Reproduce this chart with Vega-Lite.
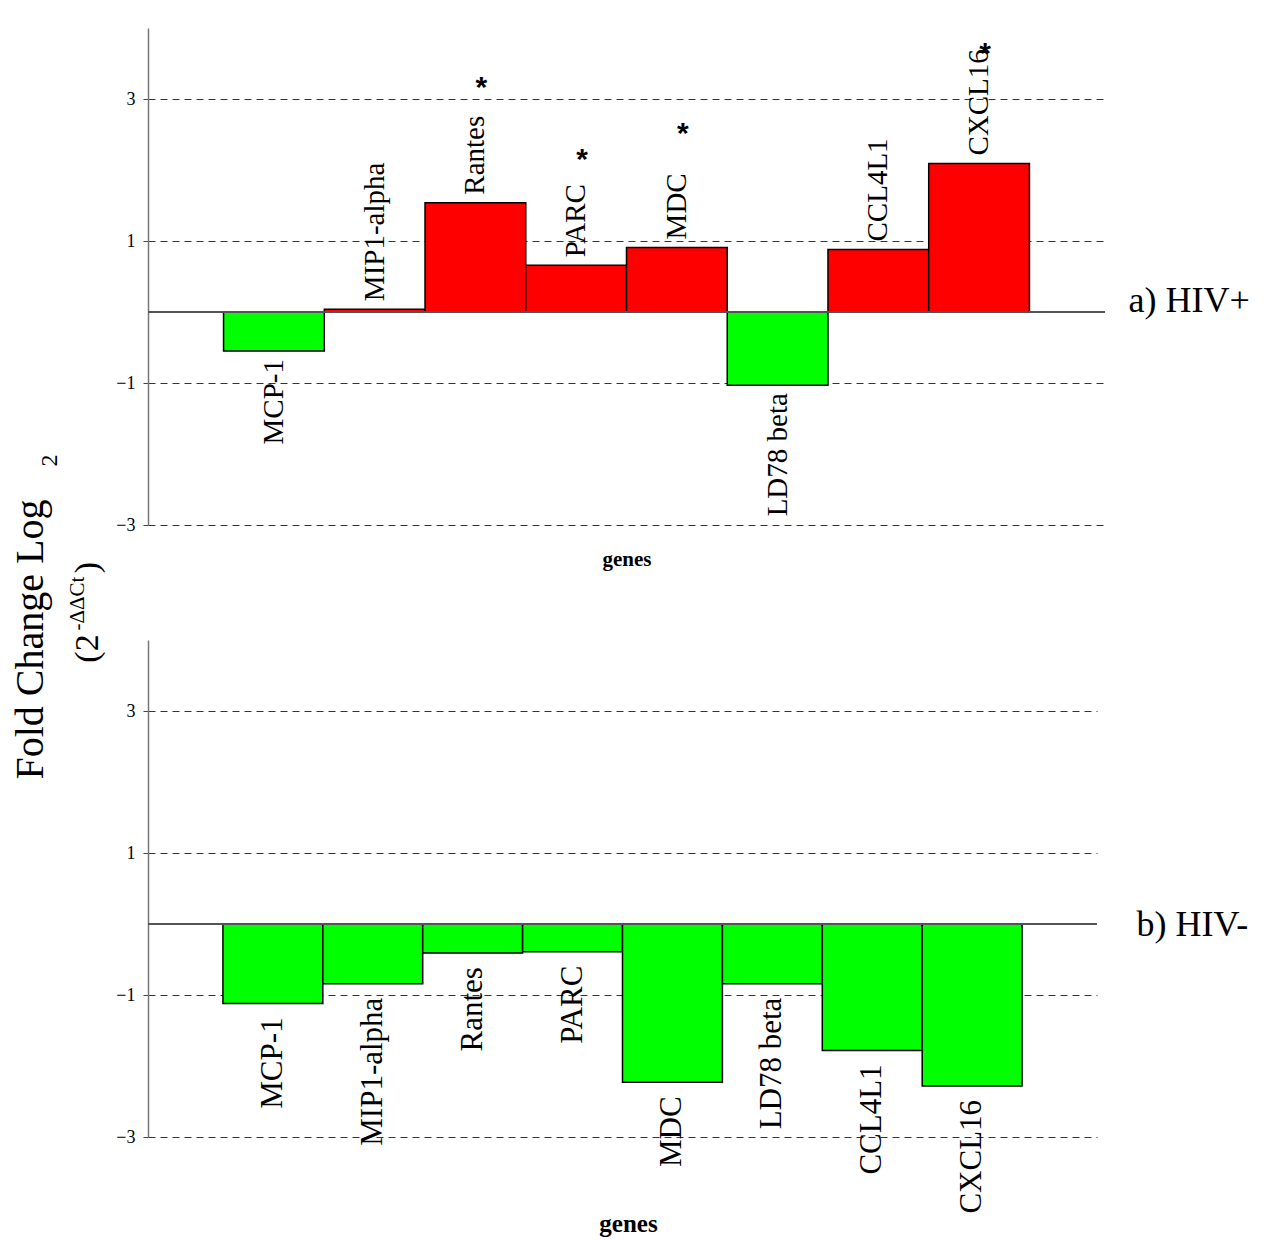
{
  "$schema": "https://vega.github.io/schema/vega-lite/v6.json",
  "padding": {"left": 10, "top": 28, "right": 19, "bottom": 5},
  "background": "white",
  "config": {
    "view": {"stroke": null},
    "font": "Liberation Serif",
    "axis": {"titleFont": "Liberation Serif", "labelFont": "Liberation Serif", "titleColor": "#000", "labelColor": "#000", "titleFontWeight": "normal"}
  },
  "data": {
    "values": [
      {"panel": "a", "gene": "MCP-1", "value": -0.55},
      {"panel": "a", "gene": "MIP1-alpha", "value": 0.04},
      {"panel": "a", "gene": "Rantes", "value": 1.54, "star": 3.27},
      {"panel": "a", "gene": "PARC", "value": 0.66, "star": 2.25},
      {"panel": "a", "gene": "MDC", "value": 0.91, "star": 2.62},
      {"panel": "a", "gene": "LD78 beta", "value": -1.03},
      {"panel": "a", "gene": "CCL4L1", "value": 0.88},
      {"panel": "a", "gene": "CXCL16", "value": 2.09, "star": 3.75},
      {"panel": "b", "gene": "MCP-1", "value": -1.12},
      {"panel": "b", "gene": "MIP1-alpha", "value": -0.84},
      {"panel": "b", "gene": "Rantes", "value": -0.41},
      {"panel": "b", "gene": "PARC", "value": -0.39},
      {"panel": "b", "gene": "MDC", "value": -2.23},
      {"panel": "b", "gene": "LD78 beta", "value": -0.84},
      {"panel": "b", "gene": "CCL4L1", "value": -1.78},
      {"panel": "b", "gene": "CXCL16", "value": -2.28}
    ]
  },
  "bounds": "flush",
  "spacing": 115,
  "vconcat": [
    {
      "width": 957,
      "height": 497,
      "transform": [{"filter": "datum.panel == 'a'"}],
      "resolve": {"axis": {"y": "independent"}},
      "layer": [
        {
          "mark": {"type": "bar", "stroke": "#000", "strokeWidth": 1.5},
          "encoding": {
            "x": {"field": "gene", "type": "nominal", "sort": null, "scale": {"paddingInner": 0, "paddingOuter": 0.75},
                  "axis": {"title": "genes", "labels": false, "ticks": false, "domain": true, "domainOpacity": 0, "titleFontWeight": "bold", "titleFontSize": 21, "titleBaseline": "alphabetic", "titleY": 40}},
            "y": {"field": "value", "type": "quantitative", "scale": {"domain": [-3, 4], "nice": false, "zero": false},
                  "axis": {"orient": "left", "title": null, "values": [3, 1, -1, -3], "grid": true, "gridDash": [7, 5], "gridColor": "#333", "gridWidth": 1, "domainColor": "#777", "domainWidth": 1.5, "tickColor": "#444", "tickSize": 5, "labelFontSize": 18, "labelPadding": 8}},
            "color": {"condition": {"test": "datum.value > 0", "value": "#FF0000"}, "value": "#00FF00"}
          }
        },
        {
          "mark": {"type": "rule", "color": "#555", "strokeWidth": 1},
          "encoding": {
            "y": {"datum": 0, "type": "quantitative", "scale": {"domain": [-3, 4], "nice": false, "zero": false},
                  "axis": {"orient": "right", "title": "a) HIV+", "domain": false, "ticks": false, "labels": false, "grid": false, "titleAngle": 0, "titleAlign": "left", "titleBaseline": "middle", "titleX": 23, "titleY": 272, "titleFontSize": 36}}
          }
        },
        {
          "transform": [{"filter": "datum.value >= 0"}],
          "mark": {"type": "text", "angle": 270, "align": "left", "baseline": "middle", "dx": 8, "font": "Liberation Serif", "fontSize": 29, "color": "#000"},
          "encoding": {
            "x": {"field": "gene", "type": "nominal", "sort": null, "scale": {"paddingInner": 0, "paddingOuter": 0.75},
                  "axis": {"title": "genes", "labels": false, "ticks": false, "domain": true, "domainOpacity": 0, "titleFontWeight": "bold", "titleFontSize": 21, "titleBaseline": "alphabetic", "titleY": 40}},
            "y": {"field": "value", "type": "quantitative", "scale": {"domain": [-3, 4], "nice": false, "zero": false},
                  "axis": {"orient": "left", "title": "Fold Change Log", "domain": false, "ticks": false, "labels": false, "grid": false, "titleAngle": 270, "titleAlign": "center", "titleBaseline": "alphabetic", "titleX": -106, "titleY": 611, "titleFontSize": 40}},
            "text": {"field": "gene"}
          }
        },
        {
          "transform": [{"filter": "datum.value < 0"}],
          "mark": {"type": "text", "angle": 270, "align": "right", "baseline": "middle", "dx": -8, "font": "Liberation Serif", "fontSize": 29, "color": "#000"},
          "encoding": {
            "x": {"field": "gene", "type": "nominal", "sort": null, "scale": {"paddingInner": 0, "paddingOuter": 0.75},
                  "axis": {"title": "genes", "labels": false, "ticks": false, "domain": true, "domainOpacity": 0, "titleFontWeight": "bold", "titleFontSize": 21, "titleBaseline": "alphabetic", "titleY": 40}},
            "y": {"field": "value", "type": "quantitative", "scale": {"domain": [-3, 4], "nice": false, "zero": false},
                  "axis": {"orient": "left", "title": "2", "domain": false, "ticks": false, "labels": false, "grid": false, "titleAngle": 270, "titleAlign": "center", "titleBaseline": "alphabetic", "titleX": -92, "titleY": 432, "titleFontSize": 24}},
            "text": {"field": "gene"}
          }
        },
        {
          "transform": [{"filter": "isValid(datum.star)"}],
          "mark": {"type": "text", "text": "*", "font": "Liberation Sans", "fontWeight": "bold", "fontSize": 30, "baseline": "middle", "dx": 6, "dy": 8, "color": "#000"},
          "encoding": {
            "x": {"field": "gene", "type": "nominal", "sort": null, "scale": {"paddingInner": 0, "paddingOuter": 0.75},
                  "axis": {"title": "genes", "labels": false, "ticks": false, "domain": true, "domainOpacity": 0, "titleFontWeight": "bold", "titleFontSize": 21, "titleBaseline": "alphabetic", "titleY": 40}},
            "y": {"field": "star", "type": "quantitative", "scale": {"domain": [-3, 4], "nice": false, "zero": false},
                  "axis": {"orient": "left", "title": "(2", "domain": false, "ticks": false, "labels": false, "grid": false, "titleAngle": 270, "titleAlign": "center", "titleBaseline": "alphabetic", "titleX": -51, "titleY": 620, "titleFontSize": 34}}
          }
        }
      ]
    },
    {
      "width": 949,
      "height": 497,
      "transform": [{"filter": "datum.panel == 'b'"}],
      "resolve": {"axis": {"y": "independent"}},
      "layer": [
        {
          "mark": {"type": "bar", "stroke": "#000", "strokeWidth": 1.5},
          "encoding": {
            "x": {"field": "gene", "type": "nominal", "sort": null, "scale": {"paddingInner": 0, "paddingOuter": 0.75},
                  "axis": {"title": "genes", "labels": false, "ticks": false, "domain": true, "domainOpacity": 0, "titleFontWeight": "bold", "titleFontSize": 25, "titleBaseline": "alphabetic", "titleY": 94, "titleX": 480}},
            "y": {"field": "value", "type": "quantitative", "scale": {"domain": [-3, 4], "nice": false, "zero": false},
                  "axis": {"orient": "left", "title": null, "values": [3, 1, -1, -3], "grid": true, "gridDash": [7, 5], "gridColor": "#333", "gridWidth": 1, "domainColor": "#777", "domainWidth": 1.5, "tickColor": "#444", "tickSize": 5, "labelFontSize": 18, "labelPadding": 8}},
            "color": {"condition": {"test": "datum.value > 0", "value": "#FF0000"}, "value": "#00FF00"}
          }
        },
        {
          "mark": {"type": "rule", "color": "#555", "strokeWidth": 1},
          "encoding": {
            "y": {"datum": 0, "type": "quantitative", "scale": {"domain": [-3, 4], "nice": false, "zero": false},
                  "axis": {"orient": "right", "title": "b) HIV-", "domain": false, "ticks": false, "labels": false, "grid": false, "titleAngle": 0, "titleAlign": "left", "titleBaseline": "middle", "titleX": 39, "titleY": 284, "titleFontSize": 36}}
          }
        },
        {
          "transform": [{"filter": "datum.value >= 0"}],
          "mark": {"type": "text", "angle": 270, "align": "left", "baseline": "middle", "dx": 14, "font": "Liberation Serif", "fontSize": 31, "color": "#000"},
          "encoding": {
            "x": {"field": "gene", "type": "nominal", "sort": null, "scale": {"paddingInner": 0, "paddingOuter": 0.75},
                  "axis": {"title": "genes", "labels": false, "ticks": false, "domain": true, "domainOpacity": 0, "titleFontWeight": "bold", "titleFontSize": 25, "titleBaseline": "alphabetic", "titleY": 94, "titleX": 480}},
            "y": {"field": "value", "type": "quantitative", "scale": {"domain": [-3, 4], "nice": false, "zero": false},
                  "axis": {"orient": "left", "title": "-ΔΔCt", "domain": false, "ticks": false, "labels": false, "grid": false, "titleAngle": 270, "titleAlign": "center", "titleBaseline": "alphabetic", "titleX": -65, "titleY": -37, "titleFontSize": 21}},
            "text": {"field": "gene"}
          }
        },
        {
          "transform": [{"filter": "datum.value < 0"}],
          "mark": {"type": "text", "angle": 270, "align": "right", "baseline": "middle", "dx": -14, "font": "Liberation Serif", "fontSize": 31, "color": "#000"},
          "encoding": {
            "x": {"field": "gene", "type": "nominal", "sort": null, "scale": {"paddingInner": 0, "paddingOuter": 0.75},
                  "axis": {"title": "genes", "labels": false, "ticks": false, "domain": true, "domainOpacity": 0, "titleFontWeight": "bold", "titleFontSize": 25, "titleBaseline": "alphabetic", "titleY": 94, "titleX": 480}},
            "y": {"field": "value", "type": "quantitative", "scale": {"domain": [-3, 4], "nice": false, "zero": false},
                  "axis": {"orient": "left", "title": ")", "domain": false, "ticks": false, "labels": false, "grid": false, "titleAngle": 270, "titleAlign": "center", "titleBaseline": "alphabetic", "titleX": -51, "titleY": -73, "titleFontSize": 34}},
            "text": {"field": "gene"}
          }
        }
      ]
    }
  ]
}
